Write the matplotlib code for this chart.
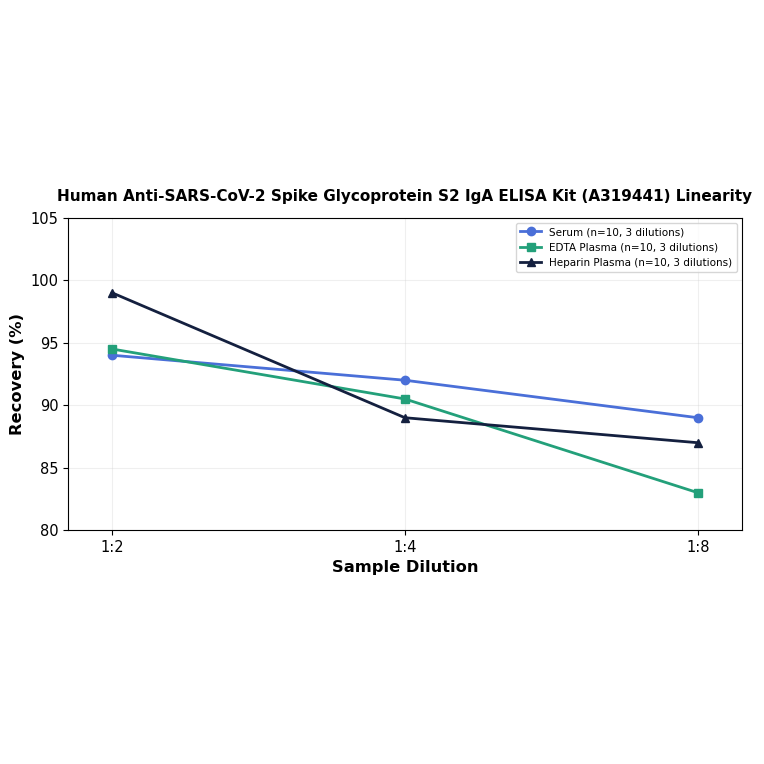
import matplotlib
matplotlib.use("Agg")
import matplotlib.pyplot as plt

dilutions = ["1:2", "1:4", "1:8"]
serum = [94.0, 92.0, 89.0]
edta = [94.5, 90.5, 83.0]
heparin = [99.0, 89.0, 87.0]
labels = ["Serum (n=10, 3 dilutions)", "EDTA Plasma (n=10, 3 dilutions)", "Heparin Plasma (n=10, 3 dilutions)"]

fig = plt.figure(figsize=(7.64, 7.64), dpi=100)
ax = fig.add_axes([0.089, 0.306, 0.882, 0.409])
x = range(len(dilutions))
ax.plot(x, serum, color="#4a6fd8", marker="o", lw=2, ms=6, label=labels[0])
ax.plot(x, edta, color="#23a07a", marker="s", lw=2, ms=6, label=labels[1])
ax.plot(x, heparin, color="#14203f", marker="^", lw=2, ms=6, label=labels[2])
ax.set_xticks(list(x))
ax.set_xticklabels(dilutions, fontsize=10.5)
ax.set_xlim(-0.15, 2.15)
ax.set_ylim(80, 105)
ax.set_yticks([80, 85, 90, 95, 100, 105])
ax.tick_params(axis="y", labelsize=10.5)
ax.grid(True, alpha=0.3, color="#cccccc")
ax.set_xlabel("Sample Dilution", fontsize=11.7, fontweight="bold")
ax.set_ylabel("Recovery (%)", fontsize=11.7, fontweight="bold")
ax.set_title("Human Anti-SARS-CoV-2 Spike Glycoprotein S2 IgA ELISA Kit (A319441) Linearity",
             fontsize=11, fontweight="bold", pad=12)
ax.legend(loc="upper right", fontsize=7.5)
fig.savefig("out.png", dpi=100)
